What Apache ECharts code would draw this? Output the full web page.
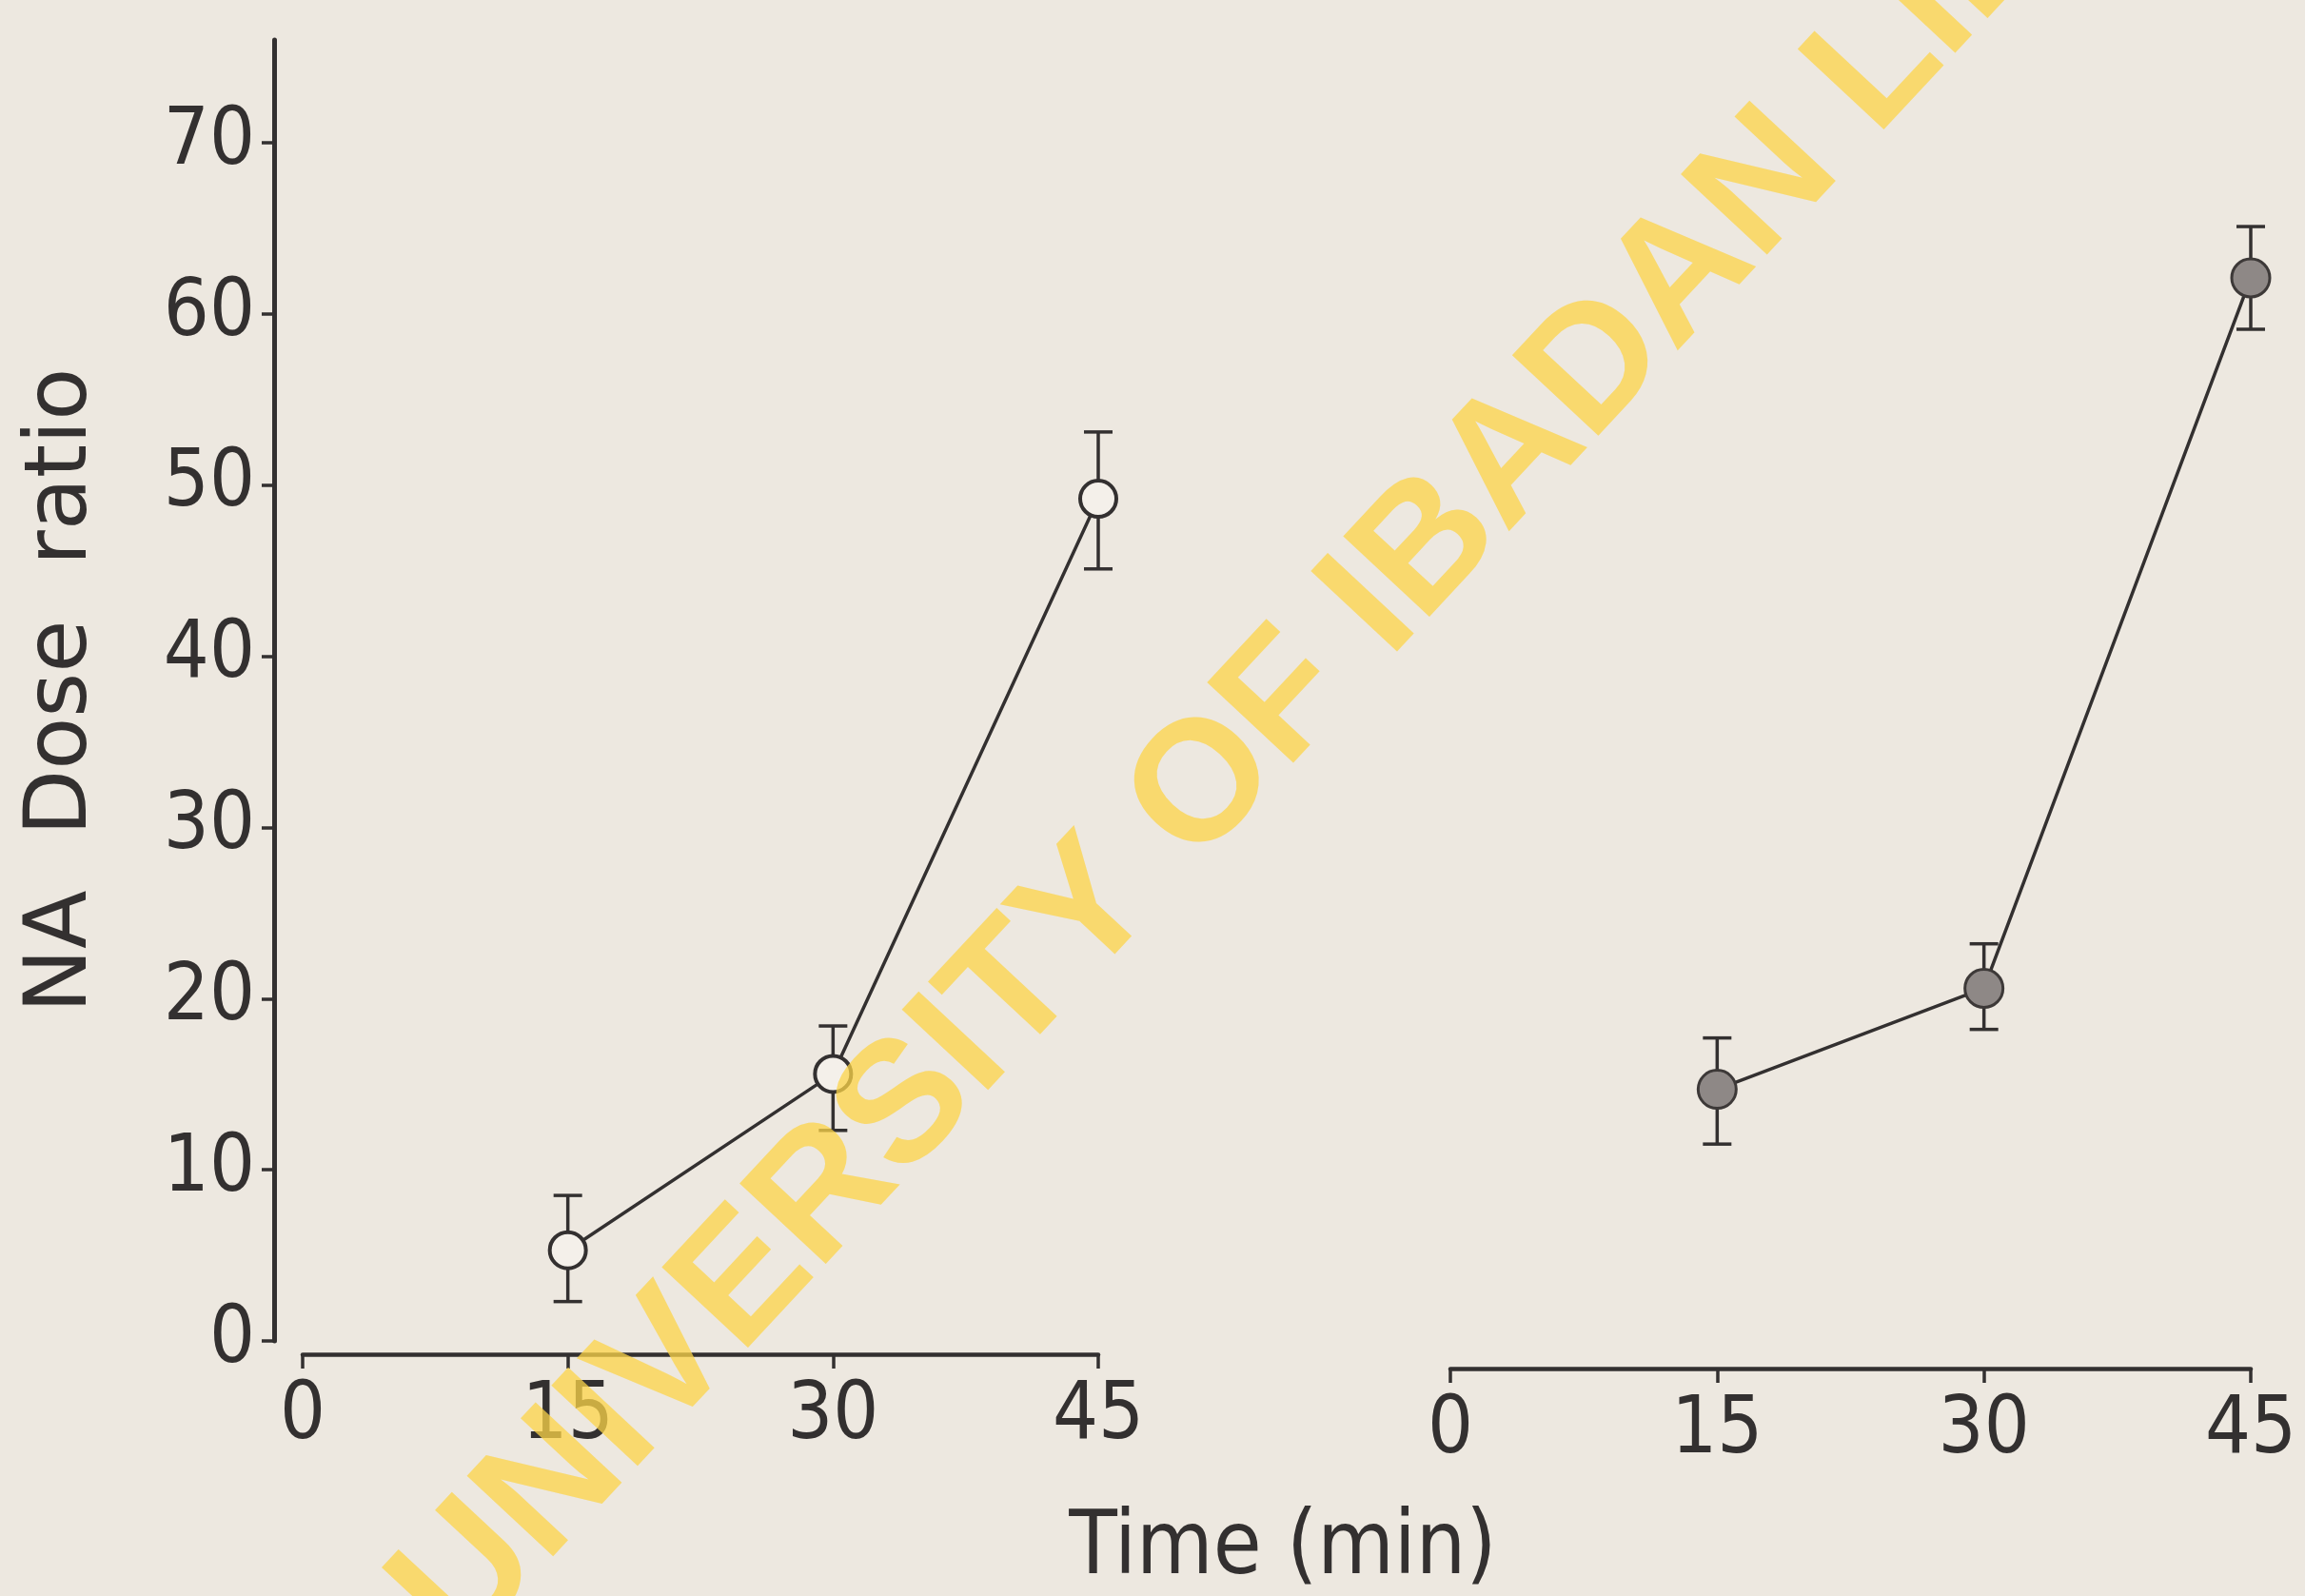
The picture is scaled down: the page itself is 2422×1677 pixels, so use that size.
<!DOCTYPE html>
<html>
<head>
<meta charset="utf-8">
<script src="https://cdn.jsdelivr.net/npm/echarts@6/dist/echarts.min.js"></script>
<style>
  html, body { margin: 0; padding: 0; background: #ede8e0; }
  #chart { width: 2422px; height: 1677px; }
</style>
</head>
<body>
<div id="chart"></div>
<script>
// time points (min) and axis ticks
const times = [15, 30, 45];
const xTicks = [0, 15, 30, 45];
const yTicks = [0, 10, 20, 30, 40, 50, 60, 70];

// left panel, open circles
const openMean = [5.3, 15.6, 49.2];
const openHigh = [8.5, 18.4, 53.1];
const openLow = [2.3, 12.3, 45.1];

// right panel, filled circles
const filledMean = [14.7, 20.6, 62.1];
const filledHigh = [17.7, 23.2, 65.1];
const filledLow = [11.5, 18.2, 59.1];

const ink = '#333030';
const paper = '#ede8e0';
const labelFont = '"DejaVu Sans Condensed", "DejaVu Sans", sans-serif';

let chartDom = document.getElementById('chart');
let myChart = echarts.init(chartDom);

function pairs(ys) {
  return times.map((t, i) => [t, ys[i]]);
}

function errorData(low, high) {
  return times.map((t, i) => [t, low[i], high[i]]);
}

function renderError(params, api) {
  const x = api.value(0);
  const lo = api.coord([x, api.value(1)]);
  const hi = api.coord([x, api.value(2)]);
  const hw = 15;
  const style = { stroke: ink, lineWidth: 3.5 };
  return {
    type: 'group',
    children: [
      { type: 'line', shape: { x1: lo[0], y1: lo[1], x2: hi[0], y2: hi[1] }, style },
      { type: 'line', shape: { x1: hi[0] - hw, y1: hi[1], x2: hi[0] + hw, y2: hi[1] }, style },
      { type: 'line', shape: { x1: lo[0] - hw, y1: lo[1], x2: lo[0] + hw, y2: lo[1] }, style },
    ],
  };
}

const xAxisBase = {
  type: 'value',
  min: 0,
  max: 45,
  interval: 15,
  splitLine: { show: false },
  axisLine: { onZero: false, lineStyle: { color: ink, width: 4.5 } },
  axisTick: { length: 15, lineStyle: { color: ink, width: 3.5 } },
  axisLabel: {
    color: ink,
    fontFamily: labelFont,
    fontSize: 84,
    margin: 24,
    customValues: xTicks,
  },
};

let option = {
  backgroundColor: paper,
  animation: false,
  grid: [
    { left: 318, width: 836, top: 42, bottom: 268 },
    { left: 1524, width: 841, top: 42, bottom: 268 },
  ],
  xAxis: [
    Object.assign({}, xAxisBase, { gridIndex: 0, offset: 14 }),
    Object.assign({}, xAxisBase, { gridIndex: 1, offset: 29 }),
  ],
  yAxis: [
    {
      gridIndex: 0,
      type: 'value',
      min: 0,
      max: 76,
      interval: 10,
      offset: 30,
      name: 'NA  Dose  ratio',
      nameLocation: 'middle',
      nameRotate: 90,
      nameGap: 176,
      nameTextStyle: {
        color: ink,
        fontFamily: '"DejaVu Sans", sans-serif',
        fontSize: 90,
      },
      splitLine: { show: false },
      axisLine: { show: true, onZero: false, lineStyle: { color: ink, width: 5 } },
      axisTick: { show: true, length: 13, customValues: yTicks, lineStyle: { color: ink, width: 3.5 } },
      axisLabel: {
        color: ink,
        fontFamily: labelFont,
        fontSize: 84,
        margin: 20,
        customValues: yTicks,
      },
    },
    { gridIndex: 1, type: 'value', min: 0, max: 76, show: false },
  ],
  graphic: [
    {
      type: 'text',
      x: 1348,
      y: 1629,
      style: {
        text: 'Time (min)',
        fontFamily: labelFont,
        fontSize: 92,
        fill: ink,
        align: 'center',
        verticalAlign: 'middle',
      },
      z: 50,
    },
    {
      type: 'text',
      x: 1462,
      y: 618,
      rotation: (47 * Math.PI) / 180,
      style: {
        text: 'UNIVERSITY OF IBADAN LIBRARY',
        fontFamily: '"Liberation Sans", sans-serif',
        fontWeight: 'bold',
        fontSize: 180,
        fill: 'rgba(252, 212, 72, 0.75)',
        align: 'center',
        verticalAlign: 'middle',
      },
      z: 100,
    },
  ],
  series: [
    {
      name: 'Open error',
      type: 'custom',
      xAxisIndex: 0,
      yAxisIndex: 0,
      renderItem: renderError,
      encode: { x: 0, y: [1, 2] },
      data: errorData(openLow, openHigh),
      z: 2,
    },
    {
      name: 'Open circles',
      type: 'line',
      xAxisIndex: 0,
      yAxisIndex: 0,
      data: pairs(openMean),
      symbol: 'circle',
      symbolSize: 38,
      lineStyle: { color: ink, width: 3.5 },
      itemStyle: { color: '#f4f0ea', borderColor: ink, borderWidth: 4 },
      z: 3,
    },
    {
      name: 'Filled error',
      type: 'custom',
      xAxisIndex: 1,
      yAxisIndex: 1,
      renderItem: renderError,
      encode: { x: 0, y: [1, 2] },
      data: errorData(filledLow, filledHigh),
      z: 2,
    },
    {
      name: 'Filled circles',
      type: 'line',
      xAxisIndex: 1,
      yAxisIndex: 1,
      data: pairs(filledMean),
      symbol: 'circle',
      symbolSize: 40,
      lineStyle: { color: ink, width: 3.5 },
      itemStyle: { color: '#8e8886', borderColor: '#3d3938', borderWidth: 3 },
      z: 3,
    },
  ],
};

option && myChart.setOption(option);
</script>
</body>
</html>
